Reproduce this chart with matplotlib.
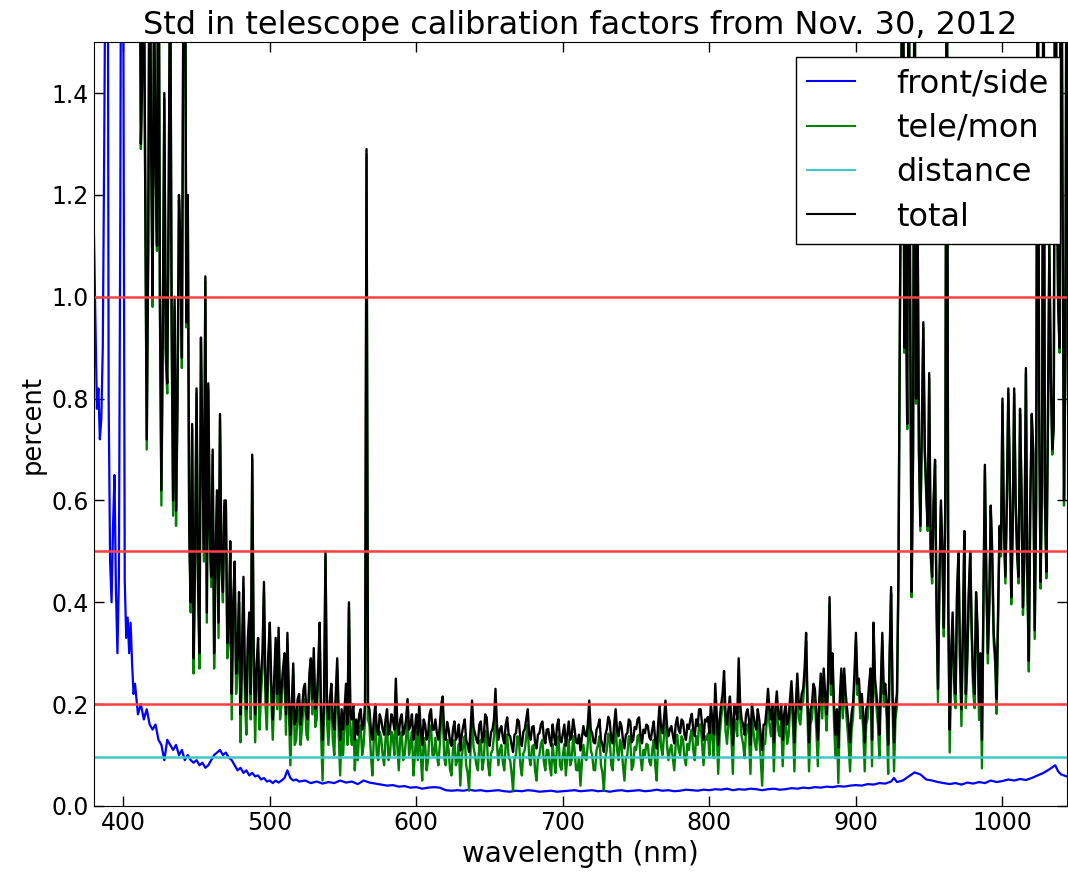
import numpy as np
import matplotlib
matplotlib.use('Agg')
import matplotlib.pyplot as plt

# wavelength samples (nm): 2 nm steps where the curves are off scale, 1 nm elsewhere
wl_uv = np.arange(380, 410, 2)
wl_vis = np.arange(410, 930, 1)
wl_nir = np.arange(930, 1045, 1)

# total std (percent)
total_uv = [3.2, 2.9, 3.5, 3.1, 2.8, 3.0, 2.6, 2.9, 2.4, 2.7, 2.2, 2.5, 1.9, 2.1, 1.8]
total_vis = [
    1.6, 1.9, 1.3, 1.45, 1.7, 1.2, 0.72, 1.1, 1.8, 1.3,
    1.0, 1.6, 1.27, 1.1, 1.9, 1.0, 0.62, 0.95, 1.4, 0.9,
    0.83, 1.2, 1.7, 0.95, 0.6, 1.0, 0.58, 0.8, 1.2, 1.1,
    0.88, 1.6, 2.0, 0.95, 1.2, 0.55, 0.4, 0.75, 0.29, 0.5,
    0.82, 0.45, 0.3, 0.92, 0.7, 0.5, 1.04, 0.38, 0.83, 0.55,
    0.45, 0.7, 0.3, 0.5, 0.62, 0.36, 0.77, 0.48, 0.42, 0.6,
    0.6, 0.32, 0.35, 0.52, 0.22, 0.4, 0.48, 0.26, 0.3, 0.42,
    0.18, 0.3, 0.45, 0.25, 0.19, 0.33, 0.38, 0.22, 0.69, 0.3,
    0.18, 0.28, 0.33, 0.2, 0.26, 0.3, 0.44, 0.24, 0.2, 0.3,
    0.36, 0.24, 0.17, 0.25, 0.33, 0.22, 0.35, 0.2, 0.23, 0.27,
    0.3, 0.18, 0.34, 0.22, 0.14, 0.2, 0.28, 0.16, 0.17, 0.21,
    0.22, 0.16, 0.19, 0.23, 0.24, 0.18, 0.17, 0.26, 0.29, 0.21,
    0.31, 0.19, 0.2, 0.27, 0.36, 0.18, 0.13, 0.21, 0.5, 0.2,
    0.17, 0.21, 0.24, 0.17, 0.15, 0.22, 0.29, 0.18, 0.13, 0.19,
    0.15, 0.19, 0.24, 0.16, 0.4, 0.18, 0.17, 0.2, 0.13, 0.17,
    0.14, 0.18, 0.19, 0.15, 0.16, 0.2, 1.29, 0.2, 0.19, 0.15,
    0.13, 0.17, 0.2, 0.15, 0.14, 0.18, 0.17, 0.15, 0.14, 0.17,
    0.19, 0.14, 0.15, 0.18, 0.17, 0.15, 0.25, 0.16, 0.14, 0.17,
    0.18, 0.14, 0.15, 0.17, 0.21, 0.15, 0.16, 0.18, 0.13, 0.15,
    0.18, 0.14, 0.2, 0.15, 0.12, 0.17, 0.16, 0.13, 0.14, 0.18,
    0.19, 0.15, 0.15, 0.17, 0.143, 0.13, 0.157, 0.2, 0.215, 0.14,
    0.13, 0.165, 0.151, 0.125, 0.118, 0.15, 0.166, 0.13, 0.137, 0.16,
    0.109, 0.14, 0.157, 0.17, 0.13, 0.12, 0.106, 0.15, 0.207, 0.155,
    0.143, 0.13, 0.123, 0.16, 0.166, 0.125, 0.137, 0.18, 0.174, 0.13,
    0.118, 0.145, 0.151, 0.17, 0.23, 0.16, 0.13, 0.15, 0.157, 0.135,
    0.123, 0.16, 0.174, 0.14, 0.137, 0.12, 0.106, 0.14, 0.143, 0.17,
    0.166, 0.13, 0.118, 0.145, 0.151, 0.17, 0.19, 0.14, 0.13, 0.155,
    0.157, 0.125, 0.113, 0.14, 0.143, 0.16, 0.166, 0.135, 0.123, 0.15,
    0.151, 0.13, 0.118, 0.16, 0.137, 0.12, 0.157, 0.17, 0.13, 0.125,
    0.143, 0.16, 0.118, 0.14, 0.166, 0.13, 0.137, 0.17, 0.151, 0.125,
    0.123, 0.14, 0.109, 0.135, 0.157, 0.14, 0.137, 0.16, 0.207, 0.15,
    0.143, 0.125, 0.123, 0.15, 0.157, 0.17, 0.13, 0.12, 0.106, 0.14,
    0.151, 0.175, 0.166, 0.13, 0.123, 0.16, 0.19, 0.15, 0.137, 0.165,
    0.157, 0.13, 0.113, 0.14, 0.143, 0.17, 0.166, 0.125, 0.13, 0.155,
    0.151, 0.17, 0.174, 0.14, 0.123, 0.15, 0.143, 0.16, 0.157, 0.135,
    0.13, 0.15, 0.166, 0.13, 0.113, 0.16, 0.198, 0.155, 0.143, 0.17,
    0.207, 0.16, 0.137, 0.15, 0.157, 0.14, 0.123, 0.16, 0.174, 0.15,
    0.143, 0.17, 0.166, 0.14, 0.13, 0.16, 0.151, 0.17, 0.181, 0.15,
    0.137, 0.17, 0.157, 0.19, 0.19, 0.16, 0.13, 0.17, 0.166, 0.175,
    0.143, 0.2, 0.17, 0.14, 0.24, 0.18, 0.12, 0.17, 0.2, 0.22,
    0.265, 0.18, 0.16, 0.19, 0.215, 0.17, 0.12, 0.2, 0.19, 0.17,
    0.29, 0.2, 0.17, 0.16, 0.14, 0.18, 0.19, 0.17, 0.12, 0.2,
    0.18, 0.16, 0.15, 0.19, 0.17, 0.14, 0.11, 0.16, 0.16, 0.19,
    0.23, 0.19, 0.17, 0.2, 0.125, 0.19, 0.225, 0.18, 0.17, 0.2,
    0.13, 0.18, 0.2, 0.16, 0.17, 0.21, 0.245, 0.19, 0.125, 0.2,
    0.26, 0.2, 0.19, 0.22, 0.23, 0.27, 0.34, 0.2, 0.125, 0.19,
    0.2, 0.24, 0.23, 0.18, 0.13, 0.21, 0.26, 0.2, 0.27, 0.22,
    0.18, 0.25, 0.41, 0.24, 0.3, 0.2, 0.14, 0.19, 0.115, 0.21,
    0.27, 0.2, 0.27, 0.22, 0.19, 0.16, 0.125, 0.18, 0.2, 0.26,
    0.34, 0.24, 0.25, 0.2, 0.22, 0.18, 0.125, 0.19, 0.2, 0.24,
    0.27, 0.13, 0.36, 0.25, 0.22, 0.19, 0.14, 0.24, 0.34, 0.22,
    0.24, 0.2, 0.12, 0.3, 0.43, 0.22, 0.125, 0.2, 0.22, 0.45,
]
total_nir = [
    0.95, 1.4, 2.0, 0.9, 1.1, 0.75, 1.8, 1.0, 0.42, 0.7,
    1.8, 0.8, 1.2, 0.7, 0.55, 0.75, 0.95, 0.7, 0.62, 0.55,
    0.85, 0.5, 0.45, 0.6, 0.68, 0.4, 0.23, 0.45, 0.6, 0.5,
    0.35, 0.6, 1.9, 0.4, 0.15, 0.3, 0.38, 0.25, 0.22, 0.42,
    0.5, 0.3, 0.19, 0.35, 0.54, 0.22, 0.3, 0.42, 0.5, 0.35,
    0.25, 0.22, 0.42, 0.35, 0.2, 0.3, 0.13, 0.4, 0.67, 0.45,
    0.3, 0.4, 0.59, 0.5, 0.34, 0.3, 0.21, 0.38, 0.55, 0.5,
    0.8, 0.55, 0.45, 0.6, 0.82, 0.65, 0.41, 0.55, 0.82, 0.6,
    0.5, 0.45, 0.78, 0.62, 0.39, 0.5, 0.86, 0.45, 0.285, 0.6,
    0.77, 0.7, 0.345, 0.6, 1.9, 0.8, 0.44, 0.65, 1.8, 0.6,
    0.46, 0.75, 1.1, 0.85, 0.7, 0.75, 1.9, 1.3, 0.99, 0.9,
    2.0, 1.2, 0.6, 0.9, 2.2,
]

# tele/mon std (percent)
tele_uv = [3.1, 2.8, 3.4, 3.0, 2.7, 2.9, 2.5, 2.8, 2.3, 2.6, 2.1, 2.4, 1.8, 2.0, 1.7]
tele_vis = [
    1.59, 1.89, 1.29, 1.44, 1.69, 1.19, 0.7, 1.09, 1.79, 1.29,
    0.98, 1.59, 1.26, 1.09, 1.89, 0.98, 0.59, 0.93, 1.39, 0.88,
    0.81, 1.19, 1.69, 0.93, 0.57, 0.98, 0.55, 0.78, 1.19, 1.09,
    0.86, 1.59, 1.99, 0.94, 1.19, 0.53, 0.38, 0.74, 0.26, 0.48,
    0.81, 0.43, 0.27, 0.91, 0.69, 0.48, 1.03, 0.36, 0.82, 0.53,
    0.43, 0.69, 0.27, 0.48, 0.61, 0.33, 0.76, 0.46, 0.4, 0.59,
    0.59, 0.29, 0.32, 0.5, 0.17, 0.38, 0.46, 0.22, 0.27, 0.4,
    0.125, 0.27, 0.43, 0.21, 0.14, 0.3, 0.36, 0.17, 0.68, 0.27,
    0.125, 0.25, 0.3, 0.15, 0.22, 0.27, 0.42, 0.2, 0.15, 0.27,
    0.34, 0.21, 0.13, 0.22, 0.31, 0.19, 0.33, 0.17, 0.2, 0.25,
    0.28, 0.14, 0.32, 0.19, 0.08, 0.17, 0.26, 0.12, 0.13, 0.18,
    0.19, 0.12, 0.155, 0.2, 0.21, 0.14, 0.13, 0.24, 0.27, 0.18,
    0.29, 0.155, 0.17, 0.25, 0.34, 0.14, 0.05, 0.18, 0.49, 0.17,
    0.12, 0.18, 0.21, 0.13, 0.1, 0.19, 0.27, 0.14, 0.06, 0.155,
    0.1, 0.155, 0.21, 0.12, 0.39, 0.14, 0.12, 0.17, 0.07, 0.13,
    0.09, 0.146, 0.158, 0.1, 0.12, 0.17, 1.28, 0.17, 0.158, 0.1,
    0.06, 0.134, 0.17, 0.1, 0.09, 0.146, 0.134, 0.1, 0.08, 0.134,
    0.158, 0.09, 0.1, 0.146, 0.134, 0.1, 0.227, 0.12, 0.07, 0.134,
    0.146, 0.09, 0.1, 0.134, 0.18, 0.1, 0.12, 0.146, 0.06, 0.1,
    0.146, 0.09, 0.17, 0.1, 0.05, 0.134, 0.12, 0.07, 0.09, 0.146,
    0.158, 0.1, 0.1, 0.134, 0.1, 0.08, 0.12, 0.172, 0.19, 0.095,
    0.08, 0.13, 0.11, 0.071, 0.06, 0.11, 0.13, 0.08, 0.09, 0.122,
    0.04, 0.095, 0.12, 0.137, 0.08, 0.065, 0.03, 0.11, 0.18, 0.116,
    0.1, 0.08, 0.07, 0.122, 0.13, 0.071, 0.09, 0.148, 0.14, 0.08,
    0.06, 0.103, 0.11, 0.137, 0.207, 0.122, 0.08, 0.11, 0.12, 0.087,
    0.07, 0.122, 0.14, 0.095, 0.09, 0.065, 0.03, 0.095, 0.1, 0.137,
    0.13, 0.08, 0.06, 0.103, 0.11, 0.137, 0.16, 0.095, 0.08, 0.116,
    0.12, 0.071, 0.05, 0.095, 0.1, 0.122, 0.13, 0.087, 0.07, 0.11,
    0.11, 0.08, 0.06, 0.122, 0.09, 0.065, 0.12, 0.137, 0.08, 0.071,
    0.1, 0.122, 0.06, 0.095, 0.13, 0.08, 0.09, 0.137, 0.11, 0.071,
    0.07, 0.095, 0.04, 0.087, 0.12, 0.095, 0.09, 0.122, 0.18, 0.11,
    0.1, 0.071, 0.07, 0.11, 0.12, 0.137, 0.08, 0.065, 0.03, 0.095,
    0.11, 0.142, 0.13, 0.08, 0.07, 0.122, 0.16, 0.11, 0.09, 0.13,
    0.12, 0.08, 0.05, 0.095, 0.1, 0.137, 0.13, 0.071, 0.08, 0.116,
    0.11, 0.137, 0.14, 0.095, 0.07, 0.11, 0.1, 0.122, 0.12, 0.087,
    0.08, 0.11, 0.13, 0.08, 0.05, 0.122, 0.17, 0.116, 0.1, 0.137,
    0.18, 0.122, 0.09, 0.11, 0.12, 0.095, 0.07, 0.122, 0.14, 0.11,
    0.1, 0.137, 0.13, 0.095, 0.08, 0.122, 0.11, 0.137, 0.15, 0.11,
    0.09, 0.137, 0.12, 0.16, 0.16, 0.122, 0.08, 0.137, 0.13, 0.142,
    0.1, 0.172, 0.137, 0.094, 0.218, 0.148, 0.063, 0.137, 0.172, 0.195,
    0.245, 0.148, 0.122, 0.16, 0.19, 0.137, 0.063, 0.172, 0.16, 0.137,
    0.27, 0.172, 0.137, 0.122, 0.094, 0.148, 0.16, 0.137, 0.063, 0.172,
    0.148, 0.122, 0.11, 0.16, 0.137, 0.094, 0.04, 0.122, 0.122, 0.16,
    0.206, 0.16, 0.137, 0.172, 0.068, 0.16, 0.2, 0.148, 0.137, 0.172,
    0.078, 0.148, 0.172, 0.122, 0.137, 0.184, 0.223, 0.16, 0.068, 0.172,
    0.24, 0.172, 0.16, 0.195, 0.206, 0.25, 0.324, 0.172, 0.068, 0.16,
    0.172, 0.218, 0.206, 0.148, 0.078, 0.184, 0.24, 0.172, 0.25, 0.195,
    0.148, 0.228, 0.397, 0.218, 0.282, 0.172, 0.094, 0.16, 0.045, 0.184,
    0.25, 0.172, 0.25, 0.195, 0.16, 0.122, 0.068, 0.148, 0.172, 0.24,
    0.324, 0.218, 0.228, 0.172, 0.195, 0.148, 0.068, 0.16, 0.172, 0.218,
    0.25, 0.078, 0.345, 0.228, 0.195, 0.16, 0.094, 0.218, 0.324, 0.195,
    0.218, 0.172, 0.063, 0.282, 0.418, 0.195, 0.068, 0.172, 0.195, 0.438,
]
tele_nir = [
    0.94, 1.4, 2.0, 0.89, 1.1, 0.74, 1.8, 0.99, 0.41, 0.69,
    1.8, 0.79, 1.2, 0.69, 0.54, 0.74, 0.94, 0.69, 0.61, 0.54,
    0.84, 0.49, 0.437, 0.59, 0.67, 0.385, 0.204, 0.437, 0.59, 0.49,
    0.333, 0.59, 1.9, 0.385, 0.105, 0.28, 0.365, 0.226, 0.192, 0.406,
    0.49, 0.28, 0.157, 0.333, 0.53, 0.192, 0.28, 0.406, 0.49, 0.333,
    0.226, 0.192, 0.406, 0.333, 0.169, 0.28, 0.074, 0.385, 0.66, 0.437,
    0.28, 0.385, 0.58, 0.49, 0.323, 0.28, 0.181, 0.365, 0.54, 0.49,
    0.79, 0.54, 0.437, 0.59, 0.81, 0.64, 0.396, 0.54, 0.81, 0.59,
    0.49, 0.437, 0.77, 0.61, 0.375, 0.49, 0.85, 0.437, 0.264, 0.59,
    0.76, 0.69, 0.328, 0.59, 1.9, 0.79, 0.427, 0.64, 1.8, 0.59,
    0.447, 0.74, 1.1, 0.84, 0.69, 0.74, 1.9, 1.3, 0.98, 0.89,
    2.0, 1.2, 0.59, 0.89, 2.2,
]

# front/side std (percent), own wavelength samples
wl_fs = [380, 381, 382, 383, 384, 385, 386, 387, 388, 389, 390, 391, 392, 393, 394,
         395, 396, 397, 398, 399, 400, 401, 402, 403, 404, 405, 406, 407, 408,
         410, 412, 414, 416, 418, 420, 422, 424, 426, 428, 430, 432, 434, 436, 438,
         440, 442, 444, 446, 448, 450, 452, 454, 456, 458, 460, 462, 464, 466, 468,
         470, 472, 474, 476, 478, 480, 482, 484, 486, 488, 490, 492, 494, 496, 498,
         500, 502, 504, 506, 508, 510, 512, 514, 516, 518, 520,
         524, 528, 532, 536, 540, 544, 548, 552, 556, 560, 564, 568, 572, 576, 580,
         584, 588, 592, 596, 600, 604, 608, 612, 616, 620, 624, 628, 632, 636, 640,
         644, 648, 652, 656, 660, 664, 668, 672, 676, 680, 684, 688, 692, 696, 700,
         704, 708, 712, 716, 720, 724, 728, 732, 736, 740, 744, 748, 752, 756, 760,
         764, 768, 772, 776, 780, 784, 788, 792, 796, 800, 804, 808, 812, 816, 820,
         824, 828, 832, 836, 840, 844, 848, 852, 856, 860, 864, 868, 872, 876, 880,
         884, 888, 892, 896, 900, 904, 908, 912, 916, 920, 924, 926, 928, 932, 936,
         940, 944, 948, 952, 956, 960, 964, 968, 972, 976, 980, 984, 988, 992, 996,
         1000, 1004, 1008, 1012, 1016, 1020, 1024, 1028, 1032, 1036, 1038, 1040, 1044]
front_side = [1.12, 0.95, 0.78, 0.82, 0.72, 0.76, 0.9, 1.3, 1.8, 2.5, 0.8, 0.48, 0.4, 0.55, 0.65,
              0.42, 0.3, 0.45, 1.2, 2.5, 1.6, 0.44, 0.33, 0.37, 0.3, 0.36, 0.28, 0.22, 0.24,
              0.18, 0.2, 0.17, 0.19, 0.16, 0.15, 0.16, 0.13, 0.12, 0.09, 0.13, 0.12, 0.11, 0.12, 0.1,
              0.11, 0.09, 0.1, 0.09, 0.085, 0.09, 0.08, 0.085, 0.075, 0.08, 0.09, 0.1, 0.105, 0.11, 0.1,
              0.105, 0.095, 0.09, 0.08, 0.07, 0.075, 0.065, 0.07, 0.06, 0.065, 0.058, 0.06, 0.052, 0.055, 0.048,
              0.05, 0.045, 0.05, 0.046, 0.05, 0.055, 0.07, 0.055, 0.05, 0.052, 0.048,
              0.05, 0.045, 0.048, 0.044, 0.047, 0.045, 0.05, 0.046, 0.048, 0.043, 0.05, 0.046, 0.044, 0.042, 0.04,
              0.041, 0.038, 0.039, 0.036, 0.037, 0.034, 0.036, 0.037, 0.036, 0.031, 0.03, 0.031, 0.03, 0.032, 0.03,
              0.031, 0.029, 0.03, 0.031, 0.029, 0.028, 0.03, 0.029, 0.031, 0.03, 0.028, 0.029, 0.03, 0.028, 0.029,
              0.03, 0.031, 0.029, 0.03, 0.031, 0.029, 0.03, 0.028, 0.03, 0.031, 0.029, 0.03, 0.031, 0.029, 0.03,
              0.032, 0.03, 0.031, 0.029, 0.03, 0.032, 0.031, 0.03, 0.032, 0.031, 0.033, 0.032, 0.034, 0.031, 0.033,
              0.032, 0.034, 0.033, 0.031, 0.033, 0.034, 0.032, 0.033, 0.035, 0.034, 0.036, 0.035, 0.037, 0.036, 0.038,
              0.037, 0.039, 0.038, 0.04, 0.041, 0.04, 0.043, 0.042, 0.045, 0.044, 0.048, 0.055, 0.047, 0.05, 0.058,
              0.066, 0.062, 0.052, 0.05, 0.047, 0.045, 0.043, 0.045, 0.042, 0.046, 0.044, 0.047, 0.045, 0.05, 0.047,
              0.049, 0.052, 0.05, 0.053, 0.051, 0.055, 0.06, 0.065, 0.072, 0.08, 0.068, 0.062, 0.058]

distance = 0.097            # constant distance term (percent)
limits = [1.0, 0.5, 0.2]    # red reference levels

wl = np.concatenate([wl_uv, wl_vis, wl_nir])
total = np.concatenate([total_uv, total_vis, total_nir])
tele_mon = np.concatenate([tele_uv, tele_vis, tele_nir])

fig = plt.figure(figsize=(10.68, 8.72), dpi=100)
ax = fig.add_axes([0.088, 0.0757, 0.911, 0.876])

ax.plot(wl_fs, front_side, color='b', lw=1.6, label='front/side')
ax.plot(wl, tele_mon, color='g', lw=1.7, label='tele/mon')
ax.plot([wl[0], wl[-1]], [distance, distance], color='#3cc8c8', lw=1.8, label='distance')
ax.plot(wl, total, color='k', lw=1.7, label='total')
for lev in limits:
    ax.axhline(lev, color=(1, 0.25, 0.25), lw=1.8)

ax.set_xlim(380, 1044)
ax.set_ylim(0, 1.5)
ax.set_yticks(np.arange(0, 1.41, 0.2))
ax.tick_params(direction='in', top=True, right=True, length=7, width=1, labelsize=17)
ax.set_title('Std in telescope calibration factors from Nov. 30, 2012', fontsize=23)
ax.set_xlabel('wavelength (nm)', fontsize=20)
ax.set_ylabel('percent', fontsize=18.5)

leg = ax.legend(loc='upper right', bbox_to_anchor=(0.9928, 0.9804), borderaxespad=0,
                fontsize=23, fancybox=False, framealpha=1, edgecolor='k',
                handlelength=1.5, handletextpad=1.3, borderpad=0.35, labelspacing=0.42)
leg.get_frame().set_linewidth(1.0)
for line in leg.get_lines():
    line.set_linewidth(1.5)

fig.savefig('out.png', dpi=100)
